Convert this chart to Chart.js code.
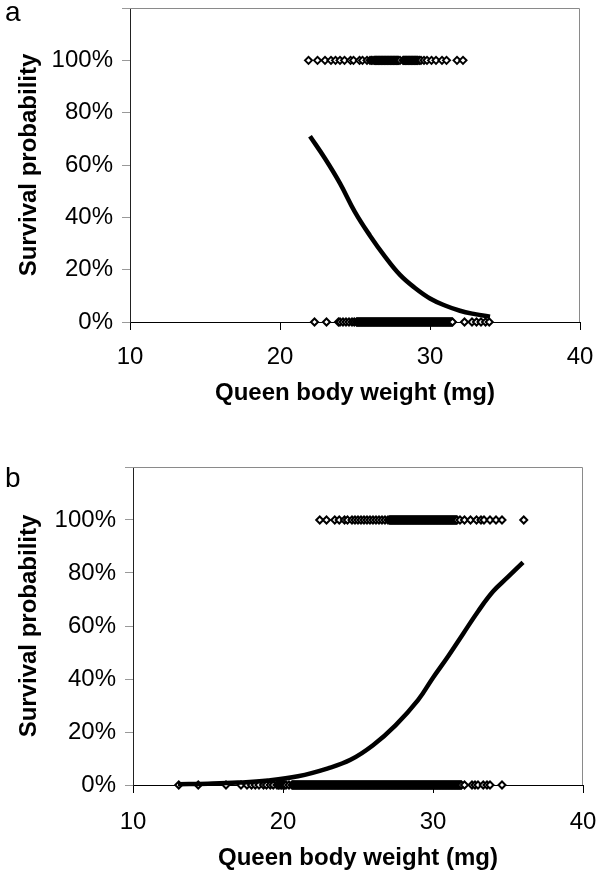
<!DOCTYPE html>
<html>
<head>
<meta charset="utf-8">
<script src="https://cdn.jsdelivr.net/npm/chart.js@4/dist/chart.umd.min.js"></script>
<style>
  html, body { margin: 0; padding: 0; background: #fff; }
  #pagina { position: relative; width: 605px; height: 878px; overflow: hidden; }
  .painel { position: absolute; left: 0; width: 625px; }
  .letra { position: absolute; left: 5px; font: 28px "Liberation Sans", Arial, sans-serif; color: #000; }
</style>
</head>
<body>
<div id="pagina">
  <div class="painel" style="top:-20px;height:440px"><canvas id="grafico-a" width="625" height="440"></canvas></div>
  <div class="painel" style="top:440px;height:438px"><canvas id="grafico-b" width="625" height="438"></canvas></div>
  <div class="letra" style="top:-4px">a</div>
  <div class="letra" style="top:462px">b</div>
</div>
<script>
// ─── DADOS ───────────────────────────────────────────────────────────────────

// painel a: rainhas que sobreviveram (100%) e que morreram (0%)
const pesoVivasA = [
  21.9, 22.5, 23.0, 23.4, 23.7, 24.0, 24.3, 24.7, 24.9, 25.3, 25.5, 25.8,
  26.0, 26.1, 26.2, 26.3, 26.35, 26.4, 26.45, 26.5, 26.55, 26.6, 26.65, 26.7,
  26.75, 26.8, 26.85, 26.9, 26.95, 27.0, 27.05, 27.1, 27.15, 27.2, 27.25, 27.3,
  27.35, 27.4, 27.45, 27.5, 27.55, 27.6, 27.65, 27.7, 27.75, 27.8, 27.85, 27.9,
  28.0, 28.2, 28.25, 28.3, 28.35, 28.4, 28.45, 28.5, 28.55, 28.6, 28.65, 28.7,
  28.75, 28.8, 28.85, 28.9, 28.95, 29.0, 29.05, 29.1, 29.15, 29.2, 29.3, 29.4,
  29.6, 29.8, 30.1, 30.4, 30.8, 31.1, 31.8, 32.2
];
const pesoMortasA = [
  22.3, 23.1, 23.9, 24.0, 24.2, 24.4, 24.6, 24.8, 24.95, 25.1,
  25.15, 25.2, 25.25, 25.3, 25.35, 25.4, 25.45, 25.5, 25.55, 25.6, 25.65, 25.7, 25.75, 25.8, 25.85, 25.9, 25.95,
  26.0, 26.05, 26.1, 26.15, 26.2, 26.25, 26.3, 26.35, 26.4, 26.45, 26.5, 26.55, 26.6, 26.65, 26.7, 26.75, 26.8, 26.85, 26.9, 26.95,
  27.0, 27.05, 27.1, 27.15, 27.2, 27.25, 27.3, 27.35, 27.4, 27.45, 27.5, 27.55, 27.6, 27.65, 27.7, 27.75, 27.8, 27.85, 27.9, 27.95,
  28.0, 28.05, 28.1, 28.15, 28.2, 28.25, 28.3, 28.35, 28.4, 28.45, 28.5, 28.55, 28.6, 28.65, 28.7, 28.75, 28.8, 28.85, 28.9, 28.95,
  29.0, 29.05, 29.1, 29.15, 29.2, 29.25, 29.3, 29.35, 29.4, 29.45, 29.5, 29.55, 29.6, 29.65, 29.7, 29.75, 29.8, 29.85, 29.9, 29.95,
  30.0, 30.05, 30.1, 30.15, 30.2, 30.25, 30.3, 30.35, 30.4, 30.45, 30.5, 30.55, 30.6, 30.65, 30.7, 30.75, 30.8, 30.85, 30.9, 30.95,
  31.0, 31.05, 31.1, 31.15, 31.2, 31.25, 31.3, 31.35, 31.4, 31.45,
  31.5, 32.3, 32.8, 33.1, 33.4, 33.7, 33.95
];
const curvaPesoA = [22, 23, 24, 25, 26, 27, 28, 29, 30, 31, 32, 33, 34];
const curvaProbA = [0.71, 0.625, 0.53, 0.42, 0.33, 0.25, 0.18, 0.13, 0.09, 0.063, 0.043, 0.03, 0.02];

// painel b
const pesoVivasB = [
  22.45, 22.9, 23.45, 23.75, 24.1, 24.3, 24.6, 24.8, 25.0, 25.2, 25.4, 25.6,
  25.8, 26.0, 26.2, 26.4, 26.6, 26.8, 27.0,
  27.1, 27.15, 27.2, 27.25, 27.3, 27.35, 27.4, 27.45, 27.5, 27.55, 27.6, 27.65, 27.7, 27.75, 27.8, 27.85, 27.9, 27.95,
  28.0, 28.05, 28.1, 28.15, 28.2, 28.25, 28.3, 28.35, 28.4, 28.45, 28.5, 28.55, 28.6, 28.65, 28.7, 28.75, 28.8, 28.85, 28.9, 28.95,
  29.0, 29.05, 29.1, 29.15, 29.2, 29.25, 29.3, 29.35, 29.4, 29.45, 29.5, 29.55, 29.6, 29.65, 29.7, 29.75, 29.8, 29.85, 29.9, 29.95,
  30.0, 30.05, 30.1, 30.15, 30.2, 30.25, 30.3, 30.35, 30.4, 30.45, 30.5, 30.55, 30.6, 30.65, 30.7, 30.75, 30.8, 30.85, 30.9, 30.95,
  31.0, 31.05, 31.1, 31.15, 31.2, 31.25, 31.3, 31.35, 31.4, 31.45, 31.5, 31.55, 31.6,
  31.8, 32.1, 32.5, 32.9, 33.2, 33.4, 33.8, 34.2, 34.6, 36.05
];
const pesoMortasB = [
  13.05, 14.35, 16.2, 17.2, 17.6, 17.9, 18.15, 18.4, 18.7, 18.9, 19.15, 19.35,
  19.6, 19.7, 19.8, 19.9, 20.0, 20.1, 20.2, 20.4,
  20.6, 20.65, 20.7, 20.75, 20.8, 20.85, 20.9, 20.95,
  21.0, 21.05, 21.1, 21.15, 21.2, 21.25, 21.3, 21.35, 21.4, 21.45, 21.5, 21.55, 21.6, 21.65, 21.7, 21.75, 21.8, 21.85, 21.9, 21.95,
  22.0, 22.05, 22.1, 22.15, 22.2, 22.25, 22.3, 22.35, 22.4, 22.45, 22.5, 22.55, 22.6, 22.65, 22.7, 22.75, 22.8, 22.85, 22.9, 22.95,
  23.0, 23.05, 23.1, 23.15, 23.2, 23.25, 23.3, 23.35, 23.4, 23.45, 23.5, 23.55, 23.6, 23.65, 23.7, 23.75, 23.8, 23.85, 23.9, 23.95,
  24.0, 24.05, 24.1, 24.15, 24.2, 24.25, 24.3, 24.35, 24.4, 24.45, 24.5, 24.55, 24.6, 24.65, 24.7, 24.75, 24.8, 24.85, 24.9, 24.95,
  25.0, 25.05, 25.1, 25.15, 25.2, 25.25, 25.3, 25.35, 25.4, 25.45, 25.5, 25.55, 25.6, 25.65, 25.7, 25.75, 25.8, 25.85, 25.9, 25.95,
  26.0, 26.05, 26.1, 26.15, 26.2, 26.25, 26.3, 26.35, 26.4, 26.45, 26.5, 26.55, 26.6, 26.65, 26.7, 26.75, 26.8, 26.85, 26.9, 26.95,
  27.0, 27.05, 27.1, 27.15, 27.2, 27.25, 27.3, 27.35, 27.4, 27.45, 27.5, 27.55, 27.6, 27.65, 27.7, 27.75, 27.8, 27.85, 27.9, 27.95,
  28.0, 28.05, 28.1, 28.15, 28.2, 28.25, 28.3, 28.35, 28.4, 28.45, 28.5, 28.55, 28.6, 28.65, 28.7, 28.75, 28.8, 28.85, 28.9, 28.95,
  29.0, 29.05, 29.1, 29.15, 29.2, 29.25, 29.3, 29.35, 29.4, 29.45, 29.5, 29.55, 29.6, 29.65, 29.7, 29.75, 29.8, 29.85, 29.9, 29.95,
  30.0, 30.05, 30.1, 30.15, 30.2, 30.25, 30.3, 30.35, 30.4, 30.45, 30.5, 30.55, 30.6, 30.65, 30.7, 30.75, 30.8, 30.85, 30.9, 30.95,
  31.0, 31.05, 31.1, 31.15, 31.2, 31.25, 31.3, 31.35, 31.4, 31.45, 31.5, 31.55, 31.6, 31.65, 31.7, 31.75, 31.8, 31.85, 31.9,
  32.1, 32.6, 32.8, 33.0, 33.35, 33.6, 33.8, 34.6
];
const curvaPesoB = [13, 15, 17, 19, 21, 23, 24.5, 26, 27.5, 29, 30, 31, 32, 33, 34, 35, 36];
const curvaProbB = [0.003, 0.005, 0.009, 0.017, 0.033, 0.063, 0.095, 0.15, 0.225, 0.32, 0.405, 0.485, 0.57, 0.655, 0.73, 0.785, 0.84];

const ticksX = [10, 20, 30, 40];
const ticksY = [0, 0.2, 0.4, 0.6, 0.8, 1.0, 1.2];

const FONTE = '"Liberation Sans", Arial, sans-serif';

// moldura cinza fina no topo e à direita
const moldura = {
  id: "moldura",
  beforeDatasetsDraw(chart) {
    const { ctx, chartArea: a } = chart;
    ctx.save();
    ctx.strokeStyle = "#8a8a8a";
    ctx.lineWidth = 1;
    ctx.beginPath();
    ctx.moveTo(a.left, a.top + 0.5);
    ctx.lineTo(a.right - 0.5, a.top + 0.5);
    ctx.lineTo(a.right - 0.5, a.bottom);
    ctx.stroke();
    ctx.restore();
  }
};

function pontos(xs, y) {
  return xs.map(x => ({ x, y }));
}

function criarGrafico(canvasId, vivas, mortas, cx, cy, g) {
  const marcador = {
    showLine: false,
    pointStyle: "rectRot",
    pointRadius: 3.5,
    pointBorderWidth: 2,
    pointBackgroundColor: "#fff",
    pointBorderColor: "#000",
    clip: false,
    order: 2
  };

  return new Chart(document.getElementById(canvasId), {
    type: "scatter",
    data: {
      datasets: [
        {
          label: "curva",
          data: cx.map((x, i) => ({ x, y: cy[i] })),
          showLine: true,
          borderColor: "#000",
          borderWidth: 4.5,
          pointRadius: 0,
          tension: 0.4,
          clip: false,
          order: 0
        },
        Object.assign({ label: "vivas", data: pontos(vivas, 1) }, marcador),
        Object.assign({ label: "mortas", data: pontos(mortas, 0) }, marcador)
      ]
    },
    options: {
      responsive: false,
      animation: false,
      devicePixelRatio: 1,
      // a tela é mais larga que a página: a margem direita fica maior que o
      // recuo automático do rótulo "40" e a área do gráfico cai onde deve
      layout: { padding: { top: g.topo, right: g.direita, left: 0, bottom: 0 } },
      plugins: { legend: { display: false }, tooltip: { enabled: false } },
      scales: {
        x: {
          type: "linear",
          min: 10, max: 40,
          afterBuildTicks: s => { s.ticks = ticksX.map(v => ({ value: v })); },
          afterFit: s => { s.height = g.alturaX; },
          grid: { drawOnChartArea: false, drawTicks: true, tickLength: 8, color: "#000" },
          border: { color: "#000", width: 1 },
          ticks: { color: "#000", padding: g.padTickX, font: { family: FONTE, size: 24 } },
          title: {
            display: true,
            text: "Queen body weight (mg)",
            color: "#000",
            padding: { top: 0, bottom: g.padTituloX },
            font: { family: FONTE, size: 24, weight: "bold" }
          }
        },
        y: {
          min: 0, max: 1.2,
          afterBuildTicks: s => { s.ticks = ticksY.map(v => ({ value: v })); },
          afterFit: s => { s.width = g.larguraY; },
          grid: { drawOnChartArea: false, drawTicks: true, tickLength: 8, color: "#999" },
          border: { color: "#222", width: 1 },
          ticks: {
            color: "#000",
            padding: 9,
            font: { family: FONTE, size: 24 },
            callback: v => v > 1.1 ? "" : Math.round(v * 100) + "%"
          },
          title: {
            display: true,
            text: "Survival probability",
            color: "#000",
            padding: { top: 15, bottom: 0 },
            font: { family: FONTE, size: 24, weight: "bold" }
          }
        }
      }
    },
    plugins: [moldura]
  });
}

criarGrafico("grafico-a", pesoVivasA, pesoMortasA, curvaPesoA, curvaProbA,
  { topo: 28, direita: 45, larguraY: 130, alturaX: 98, padTickX: 13, padTituloX: 12 });
criarGrafico("grafico-b", pesoVivasB, pesoMortasB, curvaPesoB, curvaProbB,
  { topo: 27, direita: 42, larguraY: 133, alturaX: 93, padTickX: 15, padTituloX: 5 });
</script>
</body>
</html>
